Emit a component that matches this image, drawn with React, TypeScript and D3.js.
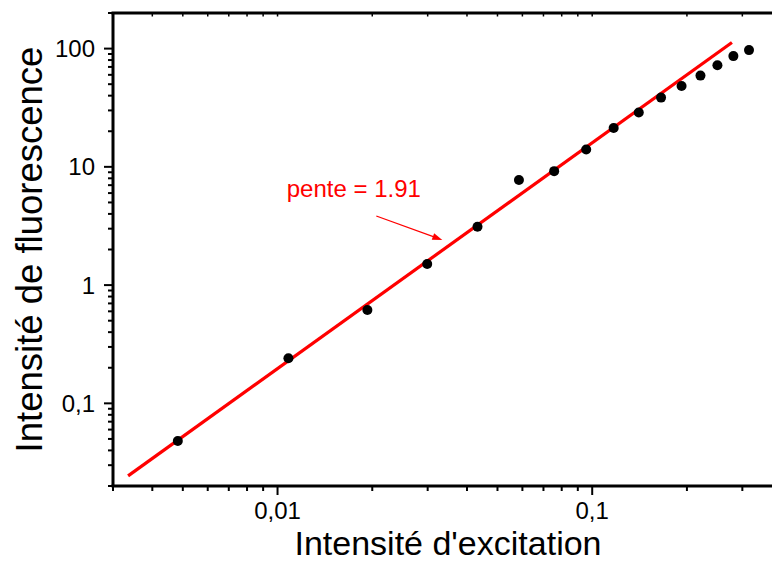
import React from "react";
import * as d3 from "d3";

// Data (log-log)
const excitation = [0.00482, 0.01083, 0.0193, 0.0299, 0.0432, 0.0585, 0.0757, 0.0957, 0.117, 0.1406, 0.1655, 0.1923, 0.2208, 0.25, 0.281, 0.315];
const fluorescence = [0.048, 0.241, 0.615, 1.51, 3.12, 7.73, 9.2, 14.0, 21.3, 28.8, 38.5, 48.2, 59.1, 72.4, 86.4, 97.1];
const fitSlope = [1.91];
const fitIntercept = [3.114];
const fitRange = [0.00335, 0.278];
const xTickLabels = [
  { v: 0.01, t: "0,01" },
  { v: 0.1, t: "0,1" },
];
const yTickLabels = [
  { v: 0.1, t: "0,1" },
  { v: 1, t: "1" },
  { v: 10, t: "10" },
  { v: 100, t: "100" },
];
const annotation = ["pente = 1.91"];
const annotationPos = [0.0107, 5.6];
const arrowFrom = [0.0206, 3.84];
const arrowTo = [0.0334, 2.41];
const xTitle = ["Intensité d'excitation"];
const yTitle = ["Intensité de fluorescence"];

const W = 772;
const H = 563;
const L = 113;
const R = 771;
const T = 13;
const B = 486;
const FONT = "'Liberation Sans', Arial, sans-serif";

function logTicks(min: number, max: number) {
  const out: { v: number; major: boolean }[] = [];
  for (let e = -4; e <= 3; e++) {
    for (let m = 1; m <= 9; m++) {
      const v = m * Math.pow(10, e);
      if (v >= min * 0.999 && v <= max * 1.001) out.push({ v, major: m === 1 });
    }
  }
  return out;
}

export default function App() {
  const x = d3.scaleLog().domain([0.003, 0.37]).range([L, R]);
  const y = d3.scaleLog().domain([0.02, 200]).range([B, T]);
  const xt = logTicks(0.003, 0.37);
  const yt = logTicks(0.02, 200);

  const fitPts: [number, number][] = fitRange.map((xv) => [
    xv,
    Math.pow(10, fitIntercept[0] + fitSlope[0] * Math.log10(xv)),
  ]);
  const line = d3
    .line<[number, number]>()
    .x((d) => x(d[0]))
    .y((d) => y(d[1]));

  const ax1 = x(arrowFrom[0]), ay1 = y(arrowFrom[1]);
  const ax2 = x(arrowTo[0]), ay2 = y(arrowTo[1]);
  const ang = Math.atan2(ay2 - ay1, ax2 - ax1);
  const hl = 10, hw = 3.5;
  const head = [
    [ax2, ay2],
    [ax2 - hl * Math.cos(ang) + hw * Math.sin(ang), ay2 - hl * Math.sin(ang) - hw * Math.cos(ang)],
    [ax2 - hl * Math.cos(ang) - hw * Math.sin(ang), ay2 - hl * Math.sin(ang) + hw * Math.cos(ang)],
  ];

  return (
    <svg width={W} height={H} style={{ position: "absolute", left: 0, top: 0, display: "block", background: "#fff" }}>
      <rect x={0} y={0} width={W} height={H} fill="#fff" />
      {/* fit line */}
      <path d={line(fitPts) || ""} stroke="#ff0000" strokeWidth={3.2} fill="none" />
      {/* points */}
      {excitation.map((xv, i) => (
        <circle key={i} cx={x(xv)} cy={y(fluorescence[i])} r={5} fill="#000" />
      ))}
      {/* annotation */}
      <text x={x(annotationPos[0])} y={y(annotationPos[1])} fontFamily={FONT} fontSize={24} fill="#ff0000">
        {annotation[0]}
      </text>
      <line x1={ax1} y1={ay1} x2={ax2 - 6 * Math.cos(ang)} y2={ay2 - 6 * Math.sin(ang)} stroke="#ff0000" strokeWidth={1.3} />
      <polygon points={head.map((p) => p.join(",")).join(" ")} fill="#ff0000" />

      {/* axes lines */}
      <line x1={L} y1={T} x2={L} y2={B} stroke="#000" strokeWidth={3} />
      <line x1={L - 1.5} y1={B} x2={R + 2} y2={B} stroke="#000" strokeWidth={3} />
      <line x1={L - 1.5} y1={T} x2={R + 2} y2={T} stroke="#000" strokeWidth={3} />

      {/* x ticks bottom (outward) and top (inward) */}
      {xt.map((t, i) => (
        <g key={"xt" + i}>
          <line x1={x(t.v)} x2={x(t.v)} y1={B} y2={B + (t.major ? 9 : 5)} stroke="#000" strokeWidth={2} />
          <line x1={x(t.v)} x2={x(t.v)} y1={T} y2={T + 3.5} stroke="#000" strokeWidth={1.5} />
        </g>
      ))}
      {/* y ticks left (outward) */}
      {yt.map((t, i) => (
        <line key={"yt" + i} x1={L} x2={L - (t.major ? 9 : 5)} y1={y(t.v)} y2={y(t.v)} stroke="#000" strokeWidth={2} />
      ))}

      {/* tick labels */}
      {xTickLabels.map((t, i) => (
        <text key={"xl" + i} x={x(t.v)} y={519} textAnchor="middle" fontFamily={FONT} fontSize={24} fill="#000">
          {t.t}
        </text>
      ))}
      {yTickLabels.map((t, i) => (
        <text key={"yl" + i} x={95} y={y(t.v)} dy="0.36em" textAnchor="end" fontFamily={FONT} fontSize={24} fill="#000">
          {t.t}
        </text>
      ))}

      {/* titles */}
      <text x={(L + R) / 2 + 6} y={555} textAnchor="middle" fontFamily={FONT} fontSize={34} fill="#000">
        {xTitle[0]}
      </text>
      <text
        transform={`translate(42, ${(T + B) / 2}) rotate(-90)`}
        textAnchor="middle"
        fontFamily={FONT}
        fontSize={36.5}
        fill="#000"
      >
        {yTitle[0]}
      </text>
    </svg>
  );
}
